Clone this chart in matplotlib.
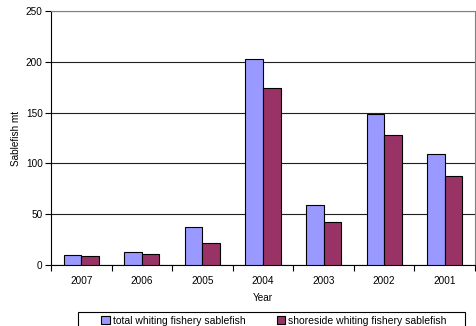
import matplotlib
matplotlib.use("Agg")
import matplotlib.pyplot as plt
from matplotlib.patches import Rectangle
import numpy as np

years = ["2007", "2006", "2005", "2004", "2003", "2002", "2001"]
total = [10, 13, 37, 203, 59, 149, 109]
shoreside = [9, 11, 22, 174, 42, 128, 88]
series_names = ["total whiting fishery sablefish", "shoreside whiting fishery sablefish"]

plt.rcParams['font.family'] = ['Liberation Sans', 'DejaVu Sans']

W, H = 477, 326
fig = plt.figure(figsize=(W/100, H/100), dpi=100)
ax = fig.add_axes([51/W, 1 - 265/H, (475-51)/W, (265-11)/H])

x = np.arange(len(years))
bw = 0.29
ax.bar(x - bw/2, total, bw, color="#9999FF", edgecolor="black", linewidth=0.8, label=series_names[0], zorder=3)
ax.bar(x + bw/2, shoreside, bw, color="#993366", edgecolor="black", linewidth=0.8, label=series_names[1], zorder=3)

ax.set_xlim(-0.5, len(years) - 0.5)
ax.set_ylim(0, 250)
ax.set_yticks(range(0, 251, 50))
ax.yaxis.grid(True, color="#202020", linewidth=0.8, zorder=0)
ax.set_axisbelow(True)

ax.set_xticks(x)
ax.set_xticklabels(years)
ax.set_xticks(np.arange(-0.5, len(years), 1), minor=True)
ax.tick_params(axis='x', which='major', length=0, labelsize=7.2, pad=8)
ax.tick_params(axis='x', which='minor', length=4, width=0.8, direction='out')
ax.tick_params(axis='y', which='major', length=4, width=0.8, labelsize=7.2, pad=2)

for s in ['top', 'right']:
    ax.spines[s].set_color('#808080')
    ax.spines[s].set_linewidth(0.8)
for s in ['left', 'bottom']:
    ax.spines[s].set_color('black')
    ax.spines[s].set_linewidth(0.8)

ax.set_xlabel("Year", fontsize=7.2, labelpad=5)
fig.text(16/W, 1 - 138/H, "Sablefish mt", fontsize=7.2, rotation=90, ha='center', va='center')

# legend frame (extends beyond bottom edge as in the reference)
fig.patches.append(Rectangle((78/W, 1 - 340/H), (465-78)/W, 28/H, transform=fig.transFigure,
                             facecolor='white', edgecolor='black', linewidth=0.8, zorder=1))
leg = fig.legend(loc='center', bbox_to_anchor=(274/W, 1 - 321/H),
                 ncol=2, fontsize=7.5, frameon=False,
                 handlelength=0.8, handleheight=0.8, columnspacing=3.0,
                 handletextpad=0.3, borderpad=0, borderaxespad=0)
leg.set_zorder(2)

fig.savefig("out.png", dpi=100)
